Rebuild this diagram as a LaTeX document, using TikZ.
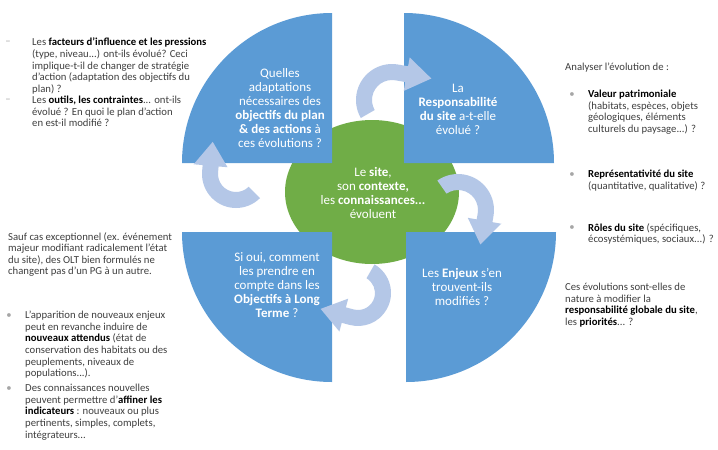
\documentclass[tikz,border=0pt]{standalone}
\usepackage{fontspec}
\setmainfont{Carlito}
\usetikzlibrary{calc}
\definecolor{qblue}{HTML}{5B9BD5}
\definecolor{cgreen}{HTML}{70AD47}
\definecolor{arrowblue}{HTML}{B4C7E7}
\definecolor{txtgray}{HTML}{3F3F3F}
\definecolor{bulgray}{HTML}{A6A6A6}
\newcommand{\hb}[1]{\textbf{\color{black}#1}}
\newcommand{\cyclarrow}[9]{%
  \pgfmathsetmacro\arRo{#3+#4/2}%
  \pgfmathsetmacro\arRi{#3-#4/2}%
  \pgfmathsetmacro\arEnd{#6+90}%
  \pgfmathsetmacro\arTip{#7+#8}%
  \pgfmathsetmacro\arBack{#6+180}%
  \fill[cycarrow] ($(#1,#2)+(#5:\arRo)$) arc[start angle=#5, end angle=#6, radius=\arRo]
    -- ($(#1,#2)+(#6:\arRo)+(\arEnd:#7)$)
    -- ($(#1,#2)+(#6:#3)+(\arEnd:#7)+(#6:#9)$)
    -- ($(#1,#2)+(#6:#3)+(\arEnd:\arTip)$)
    -- ($(#1,#2)+(#6:#3)+(\arEnd:#7)+(\arBack:#9)$)
    -- ($(#1,#2)+(#6:\arRi)+(\arEnd:#7)$)
    -- ($(#1,#2)+(#6:\arRi)$)
    arc[start angle=#6, end angle=#5, radius=\arRi] -- cycle;}
\begin{document}
\begin{tikzpicture}[x=1pt,y=-1pt,
  quad/.style={fill=qblue, draw=none},
  qtext/.style={text=white, align=center, font=\fontsize{13}{14}\selectfont, inner sep=0pt},
  side/.style={text=txtgray, align=left, anchor=north west, font=\fontsize{10.7}{11.6}\selectfont, inner sep=0pt},
  bul/.style={text=bulgray, anchor=center, font=\fontsize{10.7}{11.6}\selectfont, inner sep=0pt},
  cycarrow/.style={fill=arrowblue}]

\useasboundingbox (0,0) rectangle (718,450);
\fill[white] (0,0) rectangle (718,450);

% central ellipse
\fill[cgreen] (372,192) ellipse [x radius=87, y radius=72];

% four quadrants
\fill[quad] (332,163) -- (182,163) arc[start angle=180,end angle=270,radius=150] -- cycle;
\fill[quad] (404,163) -- (404,13) arc[start angle=270,end angle=360,radius=150] -- cycle;
\fill[quad] (406,232) -- (556,232) arc[start angle=0,end angle=90,radius=150] -- cycle;
\fill[quad] (332,232) -- (332,382) arc[start angle=90,end angle=180,radius=150] -- cycle;

% cycle arrows
\cyclarrow{392}{100}{28}{16}{150}{280}{10}{25}{17}
\cyclarrow{458}{210}{28}{16}{235}{370}{6}{24}{17}
\cyclarrow{358}{293}{25}{16}{-60}{105}{8}{24}{17}
\cyclarrow{236}{174}{26}{16}{45}{185}{6}{24}{17}

% texts in the quadrants
\node[qtext] (tl) at (280,108.5) {Quelles\\adaptations\\nécessaires des\\\textbf{objectifs du plan}\\\textbf{\& des actions} à\\ces évolutions ?};
\node[qtext] (tr) at (458,109.5) {La\\\textbf{Responsabilité}\\\textbf{du site} a-t-elle\\évolué ?};
\node[qtext] (ctr) at (373,192.5) {Le \textbf{site},\\son \textbf{contexte,}\\les \textbf{connaissances...}\\évoluent};
\node[qtext] (bl) at (277,285.5) {Si oui, comment\\les prendre en\\compte dans les\\\textbf{Objectifs à Long}\\\textbf{Terme} ?};
\node[qtext] (br) at (462,287) {Les \textbf{Enjeux} s'en\\trouvent-ils\\modifiés ?};

% left texts
\node[bul] (d1) at (8,43) {–};
\node[side] (lt1) at (32,38) {Les \hb{facteurs d'influence et les pressions}\\(type, niveau...) ont-ils évolué? Ceci\\implique-t-il de changer de stratégie\\d'action (adaptation des objectifs du\\plan) ?};
\node[bul] (d2) at (8,101) {–};
\node[side] (lt2) at (32,96) {Les \hb{outils, les contraintes}... ont-ils\\évolué ? En quoi le plan d'action\\en est-il modifié ?};

\node[side] (lm) at (8,232) {Sauf cas exceptionnel (ex. événement\\majeur modifiant radicalement l'état\\du site), des OLT bien formulés ne\\changent pas d'un PG à un autre.};

\node[bul] (b1) at (9,316) {•};
\node[side] (lb1) at (25,311) {L'apparition de nouveaux enjeux\\peut en revanche induire de\\\hb{nouveaux attendus} (état de\\conservation des habitats ou des\\peuplements, niveaux de\\populations...).};
\node[bul] (b2) at (9,389) {•};
\node[side] (lb2) at (25,384) {Des connaissances nouvelles\\peuvent permettre d'\hb{affiner les}\\\hb{indicateurs} : nouveaux ou plus\\pertinents, simples, complets,\\intégrateurs...};

% right texts
\node[side] (ra) at (565,63) {Analyser l'évolution de :};
\node[bul] (rb1) at (572,95) {•};
\node[side] (rv) at (588,90) {\hb{Valeur patrimoniale}\\(habitats, espèces, objets\\géologiques, éléments\\culturels du paysage...) ?};
\node[bul] (rb2) at (572,175) {•};
\node[side] (rr) at (588,170) {\hb{Représentativité du site}\\(quantitative, qualitative) ?};
\node[bul] (rb3) at (572,228) {•};
\node[side] (rro) at (588,223) {\hb{Rôles du site} (spécifiques,\\écosystémiques, sociaux...) ?};
\node[side] (rc) at (565,283) {Ces évolutions sont-elles de\\nature à modifier la\\\hb{responsabilité globale du site},\\les \hb{priorités}... ?};
\end{tikzpicture}
\end{document}
